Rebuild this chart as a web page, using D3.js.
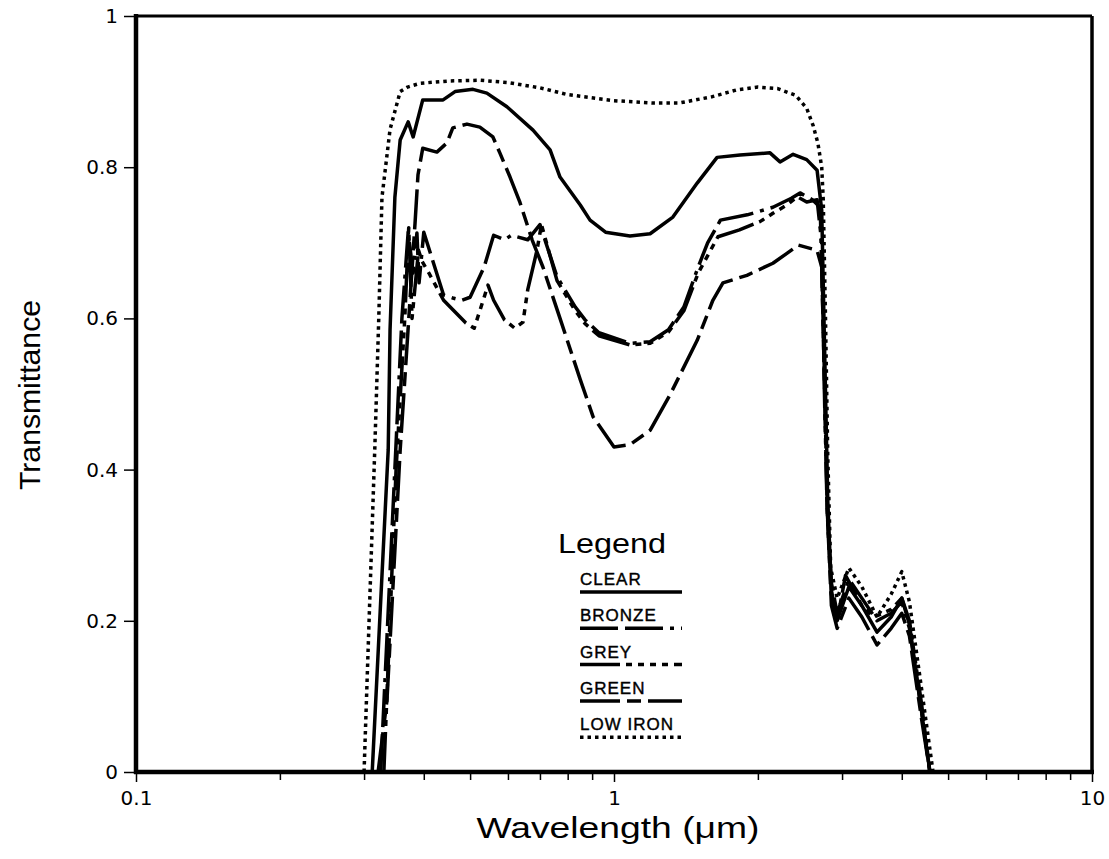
<!DOCTYPE html>
<html>
<head>
<meta charset="utf-8">
<script src="https://cdn.jsdelivr.net/npm/d3@7"></script>
<style>
  html, body { margin: 0; padding: 0; background: #fff; }
  svg { display: block; }
  text { font-family: "Liberation Sans", "DejaVu Sans", sans-serif; fill: #000; }
</style>
</head>
<body>
<svg id="chart" width="1109" height="859"></svg>
<script>
// ---------------- DATA ----------------
const xMajorTicks = [0.1, 1, 10];
const xMinorTicks = [0.2, 0.3, 0.4, 0.5, 0.6, 0.7, 0.8, 0.9, 2, 3, 4, 5, 6, 7, 8, 9];
const yTicks = [0, 0.2, 0.4, 0.6, 0.8, 1];
const yTickLabels = ["0", "0.2", "0.4", "0.6", "0.8", "1"];
const legendNames = ["CLEAR", "BRONZE", "GREY", "GREEN", "LOW IRON"];

const clearWl = [0.312, 0.337, 0.340, 0.348, 0.357, 0.371, 0.380, 0.398, 0.439, 0.465, 0.507, 0.542, 0.597, 0.677, 0.735, 0.771, 0.85, 0.891, 0.96, 1.08, 1.19, 1.328, 1.493, 1.643, 1.835, 2.12, 2.225, 2.37, 2.53, 2.66, 2.72, 2.76, 2.80, 2.85, 2.93, 3.1, 3.3, 3.55, 3.8, 4.0, 4.15, 4.4, 4.58];
const clearT  = [0, 0.426, 0.585, 0.76, 0.836, 0.86, 0.84, 0.889, 0.889, 0.90, 0.903, 0.898, 0.88, 0.849, 0.823, 0.787, 0.75, 0.73, 0.714, 0.709, 0.712, 0.734, 0.779, 0.813, 0.816, 0.819, 0.807, 0.817, 0.81, 0.796, 0.743, 0.55, 0.36, 0.24, 0.20, 0.245, 0.22, 0.185, 0.205, 0.23, 0.195, 0.08, 0];

const bronzeWl = [0.325, 0.345, 0.36, 0.371, 0.38, 0.387, 0.391, 0.40, 0.44, 0.46, 0.48, 0.50, 0.535, 0.56, 0.59, 0.61, 0.66, 0.70, 0.76, 0.83, 0.87, 0.93, 1.08, 1.19, 1.30, 1.40, 1.50, 1.57, 1.67, 1.90, 2.15, 2.35, 2.45, 2.60, 2.70, 2.75, 2.79, 2.85, 2.93, 3.1, 3.3, 3.55, 3.8, 4.0, 4.15, 4.4, 4.58];
const bronzeT  = [0, 0.35, 0.60, 0.714, 0.66, 0.713, 0.647, 0.714, 0.631, 0.627, 0.624, 0.628, 0.668, 0.71, 0.704, 0.71, 0.704, 0.724, 0.655, 0.615, 0.598, 0.581, 0.567, 0.569, 0.585, 0.615, 0.668, 0.70, 0.73, 0.737, 0.747, 0.759, 0.766, 0.757, 0.747, 0.55, 0.35, 0.25, 0.21, 0.255, 0.23, 0.20, 0.21, 0.225, 0.19, 0.08, 0];

const greyWl = [0.33, 0.35, 0.365, 0.372, 0.378, 0.39, 0.397, 0.41, 0.44, 0.49, 0.51, 0.545, 0.56, 0.59, 0.62, 0.645, 0.66, 0.69, 0.705, 0.76, 0.83, 0.87, 0.93, 1.08, 1.19, 1.30, 1.40, 1.50, 1.65, 1.83, 2.02, 2.15, 2.30, 2.42, 2.53, 2.66, 2.72, 2.76, 2.80, 2.85, 2.93, 3.05, 3.3, 3.5, 3.8, 4.0, 4.15, 4.4, 4.58];
const greyT  = [0, 0.40, 0.60, 0.72, 0.60, 0.69, 0.675, 0.66, 0.624, 0.594, 0.587, 0.644, 0.624, 0.598, 0.587, 0.595, 0.638, 0.69, 0.724, 0.65, 0.61, 0.593, 0.577, 0.565, 0.567, 0.582, 0.61, 0.66, 0.708, 0.717, 0.728, 0.739, 0.75, 0.761, 0.754, 0.757, 0.70, 0.48, 0.33, 0.235, 0.20, 0.26, 0.22, 0.205, 0.215, 0.23, 0.20, 0.09, 0];

const greenWl = [0.321, 0.335, 0.357, 0.3835, 0.389, 0.398, 0.426, 0.447, 0.46, 0.4925, 0.524, 0.558, 0.577, 0.606, 0.636, 0.674, 0.71, 0.771, 0.849, 0.904, 1.0, 1.08, 1.19, 1.31, 1.493, 1.61, 1.69, 1.897, 2.15, 2.30, 2.43, 2.66, 2.72, 2.76, 2.80, 2.85, 2.93, 3.1, 3.3, 3.55, 3.8, 4.0, 4.15, 4.4, 4.58];
const greenT  = [0, 0.095, 0.426, 0.726, 0.79, 0.825, 0.82, 0.832, 0.852, 0.857, 0.853, 0.84, 0.819, 0.787, 0.753, 0.704, 0.668, 0.60, 0.52, 0.47, 0.43, 0.433, 0.452, 0.499, 0.571, 0.624, 0.647, 0.657, 0.673, 0.686, 0.697, 0.69, 0.668, 0.50, 0.33, 0.22, 0.19, 0.23, 0.205, 0.168, 0.19, 0.21, 0.18, 0.07, 0];

const lowIronWl = [0.300, 0.316, 0.322, 0.327, 0.340, 0.357, 0.370, 0.393, 0.45, 0.524, 0.60, 0.70, 0.80, 1.0, 1.2, 1.37, 1.6, 1.8, 2.0, 2.2, 2.4, 2.53, 2.61, 2.67, 2.72, 2.74, 2.77, 2.80, 2.84, 2.93, 3.1, 3.3, 3.55, 3.8, 4.0, 4.15, 4.4, 4.65];
const lowIronT  = [0, 0.43, 0.60, 0.76, 0.85, 0.90, 0.906, 0.911, 0.914, 0.915, 0.912, 0.905, 0.896, 0.888, 0.885, 0.885, 0.893, 0.902, 0.906, 0.904, 0.895, 0.878, 0.855, 0.832, 0.80, 0.757, 0.60, 0.42, 0.27, 0.23, 0.27, 0.245, 0.205, 0.235, 0.265, 0.225, 0.11, 0];

// ---------------- CHART ----------------
const svg = d3.select("#chart");
const x = d3.scaleLog().domain([0.1, 10]).range([136, 1092]);
const y = d3.scaleLinear().domain([0, 1]).range([772, 16]);

const series = [
  { name: "CLEAR",    wl: clearWl,   t: clearT,   dash: null },
  { name: "BRONZE",   wl: bronzeWl,  t: bronzeT,  dash: "38,7,38,7,4,7" },
  { name: "GREY",     wl: greyWl,    t: greyT,    dash: "40,6,6,6,6,6,6,6,6,6" },
  { name: "GREEN",    wl: greenWl,   t: greenT,   dash: "40,7,14,7" },
  { name: "LOW IRON", wl: lowIronWl, t: lowIronT, dash: "3.5,4" }
];

svg.append("defs").append("clipPath").attr("id", "plotclip")
  .append("rect").attr("x", 136).attr("y", 16).attr("width", 956).attr("height", 756);

const line = d3.line().x(d => x(d[0])).y(d => y(d[1])).curve(d3.curveLinear);

const gLines = svg.append("g").attr("clip-path", "url(#plotclip)");
series.forEach(s => {
  const pts = s.wl.map((w, i) => [w, s.t[i]]);
  gLines.append("path")
    .attr("d", line(pts))
    .attr("fill", "none")
    .attr("stroke", "#000")
    .attr("stroke-width", 3.5)
    .attr("stroke-linejoin", "round")
    .attr("stroke-dasharray", s.dash);
});

// Axes
const xAxisMajor = d3.axisBottom(x).tickValues(xMajorTicks).tickSize(10).tickPadding(9)
  .tickFormat(d => d === 0.1 ? "0.1" : String(d));
const xAxisMinor = d3.axisBottom(x).tickValues(xMinorTicks).tickSize(8).tickFormat("");
const yAxis = d3.axisLeft(y).tickValues(yTicks).tickSize(12).tickPadding(6)
  .tickFormat((d, i) => yTickLabels[i]);

const gx = svg.append("g").attr("transform", "translate(0,772)").call(xAxisMajor);
const gxm = svg.append("g").attr("transform", "translate(0,772)").call(xAxisMinor);
const gy = svg.append("g").attr("transform", "translate(136,0)").call(yAxis);
[gx, gxm, gy].forEach(g => {
  g.select(".domain").remove();
  g.selectAll(".tick line").attr("stroke", "#000").attr("stroke-width", 1.5);
  g.selectAll(".tick text").style("font-family", "'DejaVu Sans', sans-serif").style("font-size", "20px").attr("fill", "#000");
});

// Frame
svg.append("line").attr("x1", 136).attr("x2", 1092).attr("y1", 16).attr("y2", 16).attr("stroke", "#000").attr("stroke-width", 3);
svg.append("line").attr("x1", 1092).attr("x2", 1092).attr("y1", 16).attr("y2", 772).attr("stroke", "#000").attr("stroke-width", 3.5);
svg.append("line").attr("x1", 136).attr("x2", 136).attr("y1", 14).attr("y2", 774).attr("stroke", "#000").attr("stroke-width", 4.5);
svg.append("line").attr("x1", 134).attr("x2", 1094).attr("y1", 772).attr("y2", 772).attr("stroke", "#000").attr("stroke-width", 4.5);

// Axis titles
svg.append("text")
  .attr("transform", "translate(40,395) rotate(-90)")
  .attr("text-anchor", "middle")
  .attr("textLength", 190).attr("lengthAdjust", "spacingAndGlyphs")
  .style("font-size", "29px")
  .text("Transmittance");

svg.append("text")
  .attr("x", 618).attr("y", 838)
  .attr("text-anchor", "middle")
  .attr("textLength", 283).attr("lengthAdjust", "spacingAndGlyphs")
  .style("font-size", "30px")
  .text("Wavelength (\u03BCm)");

// Legend
const lg = svg.append("g");
lg.append("text").attr("x", 558).attr("y", 553)
  .attr("textLength", 108).attr("lengthAdjust", "spacingAndGlyphs")
  .style("font-size", "27px").text("Legend");

series.forEach((s, i) => {
  const by = 585 + i * 36.3;
  lg.append("text").attr("x", 580).attr("y", by)
    .style("font-size", "17px").style("letter-spacing", "1px")
    .style("stroke", "#000").style("stroke-width", "0.4px")
    .text(legendNames[i]);
  lg.append("line").attr("x1", 580).attr("x2", 682).attr("y1", by + 7).attr("y2", by + 7)
    .attr("stroke", "#000").attr("stroke-width", 3.5).attr("stroke-dasharray", s.dash);
});
</script>
</body>
</html>
